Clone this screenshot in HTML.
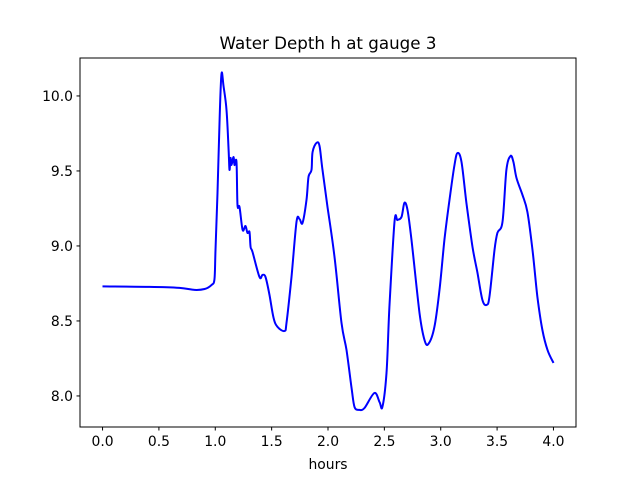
<!DOCTYPE html>
<html><head><meta charset="utf-8"><style>
body{margin:0;background:#fff}
svg{display:block;font-family:"DejaVu Sans","Liberation Sans",sans-serif}
</style></head><body>
<svg id="chart" width="640" height="480">
<rect width="640" height="480" fill="#fff"/>
<text x="328" y="49" text-anchor="middle" font-size="16.7">Water Depth h at gauge 3</text>
<text x="328" y="469" text-anchor="middle" font-size="13.9">hours</text>
<g id="ticks"></g>
<path id="line" fill="none" stroke="#0000ff" stroke-width="2" stroke-linejoin="round"/>
<rect x="80" y="58" width="496" height="369" fill="none" stroke="#000" stroke-width="1"/>
</svg>
<script>
const hours=[0,0.417,0.683,0.816,0.905,0.967,0.993,1.002,1.020,1.038,1.055,1.073,1.100,1.118,1.126,1.135,1.144,1.162,1.171,1.188,1.197,1.215,1.242,1.268,1.286,1.304,1.313,1.330,1.392,1.419,1.446,1.481,1.517,1.552,1.614,1.632,1.676,1.721,1.747,1.774,1.809,1.827,1.854,1.863,1.898,1.925,1.951,1.996,2.058,2.120,2.164,2.208,2.235,2.279,2.324,2.412,2.457,2.483,2.519,2.545,2.590,2.616,2.652,2.678,2.705,2.741,2.812,2.856,2.891,2.944,2.989,3.033,3.078,3.122,3.149,3.184,3.228,3.282,3.326,3.370,3.406,3.432,3.477,3.503,3.548,3.583,3.619,3.645,3.672,3.725,3.769,3.814,3.858,3.902,3.947,4.0];
const depth=[8.730,8.727,8.72,8.707,8.713,8.74,8.78,8.973,9.353,9.84,10.147,10.067,9.907,9.64,9.507,9.587,9.54,9.593,9.54,9.56,9.273,9.26,9.107,9.133,9.087,9.093,8.993,8.96,8.793,8.807,8.793,8.673,8.52,8.46,8.433,8.487,8.793,9.16,9.18,9.153,9.307,9.46,9.507,9.627,9.687,9.667,9.507,9.26,8.927,8.487,8.307,8.06,7.927,7.907,7.92,8.02,7.96,7.927,8.153,8.593,9.16,9.173,9.193,9.287,9.24,9.04,8.553,8.373,8.347,8.46,8.707,9.04,9.307,9.54,9.62,9.56,9.287,8.993,8.82,8.64,8.607,8.66,8.973,9.087,9.16,9.507,9.60,9.56,9.453,9.34,9.227,8.973,8.66,8.44,8.307,8.22];
const xTicks=["0.0","0.5","1.0","1.5","2.0","2.5","3.0","3.5","4.0"];
const yTicks=["8.0","8.5","9.0","9.5","10.0"];
const X=t=>80+(t+0.2)/4.4*496;
const Y=h=>58+(10.253-h)/(10.253-7.793)*369;
const NS="http://www.w3.org/2000/svg";
const g=document.getElementById('ticks');
function mk(tag,attrs,txt){const e=document.createElementNS(NS,tag);for(const k in attrs)e.setAttribute(k,attrs[k]);if(txt!==undefined)e.textContent=txt;g.appendChild(e);return e;}
xTicks.forEach(s=>{const x=X(parseFloat(s));
const l=mk('line',{x1:x,x2:x,y1:427,y2:430.5,stroke:'#000'});


const t=mk('text',{x:x,y:446,'text-anchor':'middle','font-size':'13.9'},s);

});
yTicks.forEach(s=>{const y=Y(parseFloat(s));
const l=mk('line',{x1:76.5,x2:80,y1:y,y2:y,stroke:'#000'});


const t=mk('text',{x:73,y:y+5,'text-anchor':'end','font-size':'13.9'},s);

});
const P=hours.map((t,i)=>[X(t),Y(depth[i])]);
let d='M'+P[0][0].toFixed(1)+','+P[0][1].toFixed(1);
for(let i=0;i<P.length-1;i++){
 const p0=P[Math.max(0,i-1)],p1=P[i],p2=P[i+1],p3=P[Math.min(P.length-1,i+2)];
 const c1=[p1[0]+(p2[0]-p0[0])/6,p1[1]+(p2[1]-p0[1])/6];
 const c2=[p2[0]-(p3[0]-p1[0])/6,p2[1]-(p3[1]-p1[1])/6];
 d+='C'+c1[0].toFixed(1)+','+c1[1].toFixed(1)+' '+c2[0].toFixed(1)+','+c2[1].toFixed(1)+' '+p2[0].toFixed(1)+','+p2[1].toFixed(1);
}
document.getElementById('line').setAttribute('d',d);
</script>
</body></html>
